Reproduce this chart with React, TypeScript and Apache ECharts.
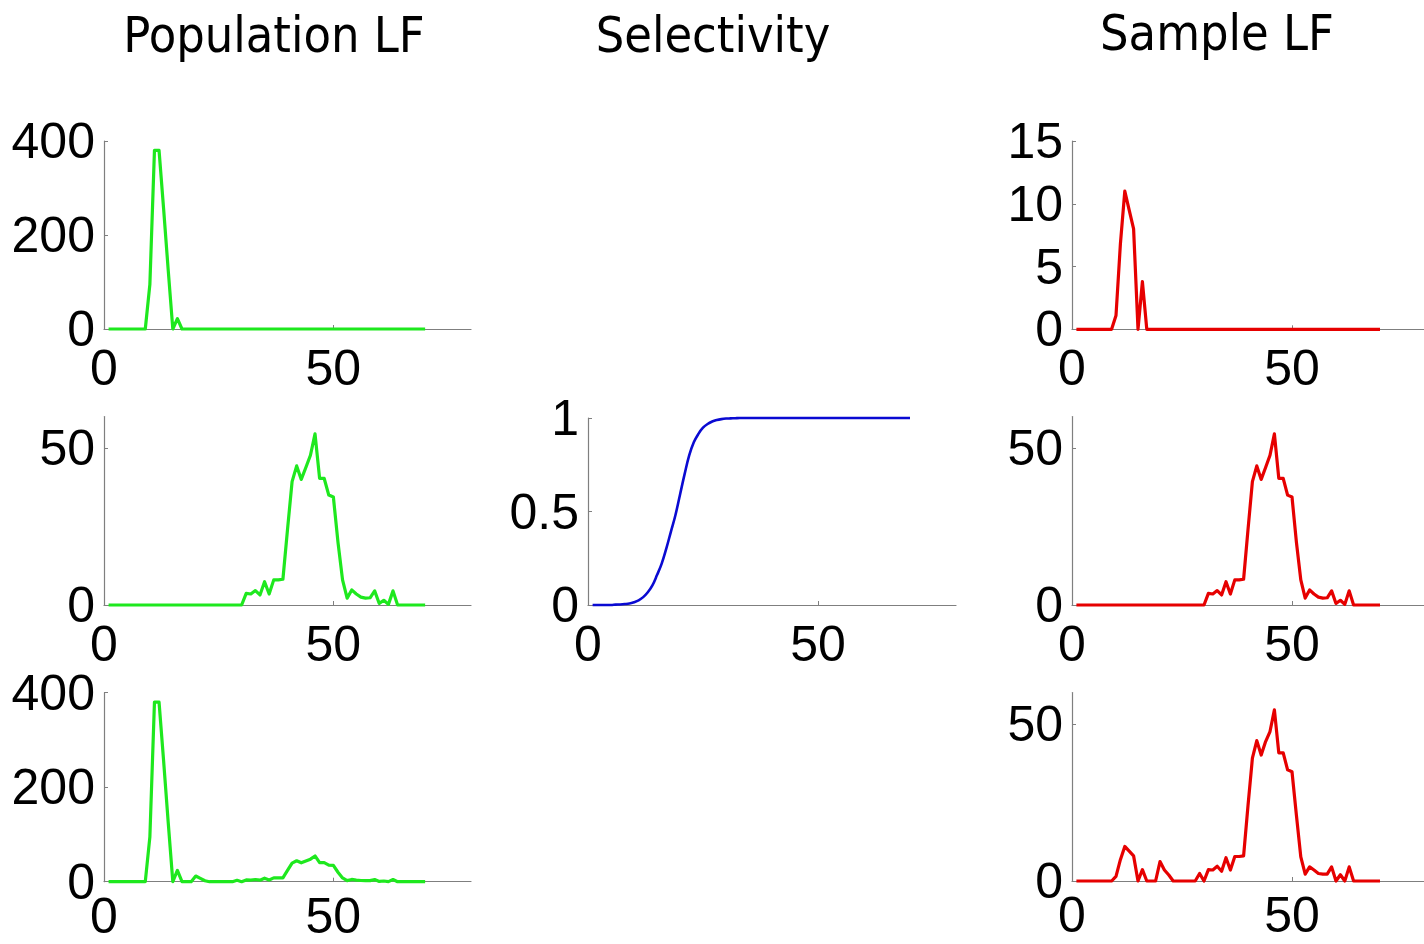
import React, { useEffect, useRef } from 'react';
import * as echarts from 'echarts';

// Length bins (x values)
const lengths = [
  1, 2, 3, 4, 5, 6, 7, 8, 9, 10, 11, 12, 13, 14, 15, 16, 17, 18, 19, 20,
  21, 22, 23, 24, 25, 26, 27, 28, 29, 30, 31, 32, 33, 34, 35, 36, 37, 38, 39, 40,
  41, 42, 43, 44, 45, 46, 47, 48, 49, 50, 51, 52, 53, 54, 55, 56, 57, 58, 59, 60,
  61, 62, 63, 64, 65, 66, 67, 68, 69, 70,
];

const xTicks = [0, 50];

// Population LF, row 1 (green)
const popTop = [
  0, 0, 0, 0, 0, 0, 0, 0, 0, 95, 380, 380, 255, 125, 0, 22, 0, 0, 0, 0,
  0, 0, 0, 0, 0, 0, 0, 0, 0, 0, 0, 0, 0, 0, 0, 0, 0, 0, 0, 0,
  0, 0, 0, 0, 0, 0, 0, 0, 0, 0, 0, 0, 0, 0, 0, 0, 0, 0, 0, 0,
  0, 0, 0, 0, 0, 0, 0, 0, 0, 0,
];

// Population LF, row 2
const popMid = [
  0, 0, 0, 0, 0, 0, 0, 0, 0, 0, 0, 0, 0, 0, 0, 0, 0, 0, 0, 0,
  0, 0, 0, 0, 0, 0, 0, 0, 0, 0, 3.7, 3.5, 4.6, 3.2, 7.4, 3.5, 8, 8, 8.2, 24,
  39.3, 44.3, 40, 43.8, 47.7, 54.5, 40.3, 40.3, 35, 34.4, 20, 8, 2.2, 4.8, 3.5, 2.5, 2.2, 2.3, 4.5, 0.5,
  1.5, 0.2, 4.5, 0, 0, 0, 0, 0, 0, 0,
];

// Population LF, row 3
const popBot = [
  0, 0, 0, 0, 0, 0, 0, 0, 0, 95, 380, 380, 255, 125, 0, 24, 0, 0, 0, 12,
  7, 2, 0, 0, 0, 0, 0, 0, 3, 0, 3.7, 3.5, 4.6, 3.2, 7.4, 3.5, 8, 8, 8.2, 24,
  39.3, 44.3, 40, 43.8, 47.7, 54.5, 40.3, 40.3, 35, 34.4, 20, 8, 2.2, 4.8, 3.5, 2.5, 2.2, 2.3, 4.5, 0.5,
  1.5, 0.2, 4.5, 0, 0, 0, 0, 0, 0, 0,
];

// Selectivity (blue)
const selectivity = [
  0, 0, 0, 0, 0, 0.002, 0.003, 0.005, 0.008, 0.015, 0.025, 0.042, 0.068, 0.105, 0.16, 0.22, 0.3, 0.39, 0.48, 0.59,
  0.7, 0.8, 0.87, 0.915, 0.948, 0.968, 0.981, 0.989, 0.994, 0.997, 0.998, 0.999, 1, 1, 1, 1, 1, 1, 1, 1,
  1, 1, 1, 1, 1, 1, 1, 1, 1, 1, 1, 1, 1, 1, 1, 1, 1, 1, 1, 1,
  1, 1, 1, 1, 1, 1, 1, 1, 1, 1,
];

// Sample LF (red)
const sampTop = [
  0, 0, 0, 0, 0, 0, 0, 0, 0, 1.1, 6.8, 11, 9.5, 8, 0, 3.8, 0, 0, 0, 0,
  0, 0, 0, 0, 0, 0, 0, 0, 0, 0, 0, 0, 0, 0, 0, 0, 0, 0, 0, 0,
  0, 0, 0, 0, 0, 0, 0, 0, 0, 0, 0, 0, 0, 0, 0, 0, 0, 0, 0, 0,
  0, 0, 0, 0, 0, 0, 0, 0, 0, 0,
];

const sampMid = [
  0, 0, 0, 0, 0, 0, 0, 0, 0, 0, 0, 0, 0, 0, 0, 0, 0, 0, 0, 0,
  0, 0, 0, 0, 0, 0, 0, 0, 0, 0, 3.7, 3.5, 4.6, 3.2, 7.4, 3.5, 8, 8, 8.2, 24,
  39.3, 44.3, 40, 43.8, 47.7, 54.5, 40.3, 40.3, 35, 34.4, 20, 8, 2.2, 4.8, 3.5, 2.5, 2.2, 2.3, 4.5, 0.5,
  1.5, 0.2, 4.5, 0, 0, 0, 0, 0, 0, 0,
];

const sampBot = [
  0, 0, 0, 0, 0, 0, 0, 0, 0, 1.5, 6.8, 11, 9.5, 8, 0, 3.6, 0, 0, 0, 6.2,
  3.5, 1.9, 0, 0, 0, 0, 0, 0, 2.4, 0, 3.6, 3.5, 4.7, 3.1, 7.4, 3.5, 7.8, 7.8, 8, 24,
  39.1, 44.7, 40.1, 44.4, 47.6, 54.5, 40.8, 40.8, 35.4, 34.8, 21, 7.7, 2.2, 4.5, 3.5, 2.4, 2.2, 2.2, 4.5, 0,
  2, 0, 4.5, 0, 0, 0, 0, 0, 0, 0,
];

const titles = ['Population LF', 'Selectivity', 'Sample LF'];

const GREEN = '#1ee81e';
const RED = '#e60000';
const BLUE = '#0a0ad2';
const AXIS = '#7f7f7f';
const FONT = '"Liberation Sans", Arial, sans-serif';
const TITLE_FONT = '"DejaVu Sans Condensed", "DejaVu Sans", sans-serif';

type Panel = {
  grid: { left: number; top: number; width: number; height: number };
  yMax: number;
  yTicks: number[];
  data: number[];
  color: string;
  lw: number;
  smooth: number | boolean;
  xMargin: number;
};

const panels: Panel[] = [
  { grid: { left: 104, top: 141, width: 367, height: 188 }, yMax: 400, yTicks: [0, 200, 400], data: popTop, color: GREEN, lw: 3.2, smooth: false, xMargin: 19 },
  { grid: { left: 104, top: 416.6, width: 367, height: 188.4 }, yMax: 60, yTicks: [0, 50], data: popMid, color: GREEN, lw: 3.2, smooth: false, xMargin: 19 },
  { grid: { left: 104, top: 692.7, width: 367, height: 189 }, yMax: 400, yTicks: [0, 200, 400], data: popBot, color: GREEN, lw: 3.2, smooth: false, xMargin: 14 },
  { grid: { left: 588, top: 418, width: 368, height: 187 }, yMax: 1, yTicks: [0, 0.5, 1], data: selectivity, color: BLUE, lw: 2.6, smooth: 0.4, xMargin: 19 },
  { grid: { left: 1072, top: 141, width: 368, height: 188.3 }, yMax: 15, yTicks: [0, 5, 10, 15], data: sampTop, color: RED, lw: 3.2, smooth: false, xMargin: 19 },
  { grid: { left: 1072, top: 416.6, width: 368, height: 188.4 }, yMax: 60, yTicks: [0, 50], data: sampMid, color: RED, lw: 3.2, smooth: false, xMargin: 19 },
  { grid: { left: 1072, top: 692.6, width: 368, height: 188.4 }, yMax: 60, yTicks: [0, 50], data: sampBot, color: RED, lw: 3.2, smooth: false, xMargin: 14 },
];

const labelStyle = {
  color: '#000',
  fontSize: 50,
  fontFamily: FONT,
};

export default function App() {
  const ref = useRef<HTMLDivElement>(null);

  useEffect(() => {
    if (!ref.current) return;
    const chart = echarts.init(ref.current, undefined, { renderer: 'svg' });

    const titleStyle = (text: string) => ({
      text,
      font: `50px ${TITLE_FONT}`,
      fill: '#000',
      textAlign: 'center',
      textVerticalAlign: 'middle',
    });

    const option: any = {
      animation: false,
      backgroundColor: '#fff',
      graphic: [
        { type: 'text', x: 274, y: 35, style: titleStyle(titles[0]) },
        { type: 'text', x: 713, y: 35, style: titleStyle(titles[1]) },
        { type: 'text', x: 1217, y: 33, style: titleStyle(titles[2]) },
      ],
      grid: panels.map((p) => ({ ...p.grid, containLabel: false })),
      xAxis: panels.map((p, i) => ({
        type: 'value',
        gridIndex: i,
        min: 0,
        max: 80,
        axisLine: { lineStyle: { color: AXIS, width: 1.2 } },
        axisTick: { inside: true, length: 4, customValues: xTicks, lineStyle: { color: AXIS } },
        axisLabel: { ...labelStyle, customValues: xTicks, margin: p.xMargin, lineHeight: 40 },
        splitLine: { show: false },
      })),
      yAxis: panels.map((p, i) => ({
        type: 'value',
        gridIndex: i,
        min: 0,
        max: p.yMax,
        axisLine: { show: true, lineStyle: { color: AXIS, width: 1.2 } },
        axisTick: { show: true, inside: true, length: 4, customValues: p.yTicks, lineStyle: { color: AXIS } },
        axisLabel: { ...labelStyle, customValues: p.yTicks, margin: 9 },
        splitLine: { show: false },
      })),
      series: panels.map((p, i) => ({
        type: 'line',
        xAxisIndex: i,
        yAxisIndex: i,
        data: lengths.map((x, k) => [x, p.data[k]]),
        showSymbol: false,
        symbol: 'none',
        smooth: p.smooth,
        lineStyle: { color: p.color, width: p.lw, join: 'round' },
        clip: false,
      })),
    };

    chart.setOption(option);
    return () => chart.dispose();
  }, []);

  return (
    <div
      ref={ref}
      style={{ position: 'absolute', left: 0, top: 0, width: 1424, height: 944, background: '#fff' }}
    />
  );
}
